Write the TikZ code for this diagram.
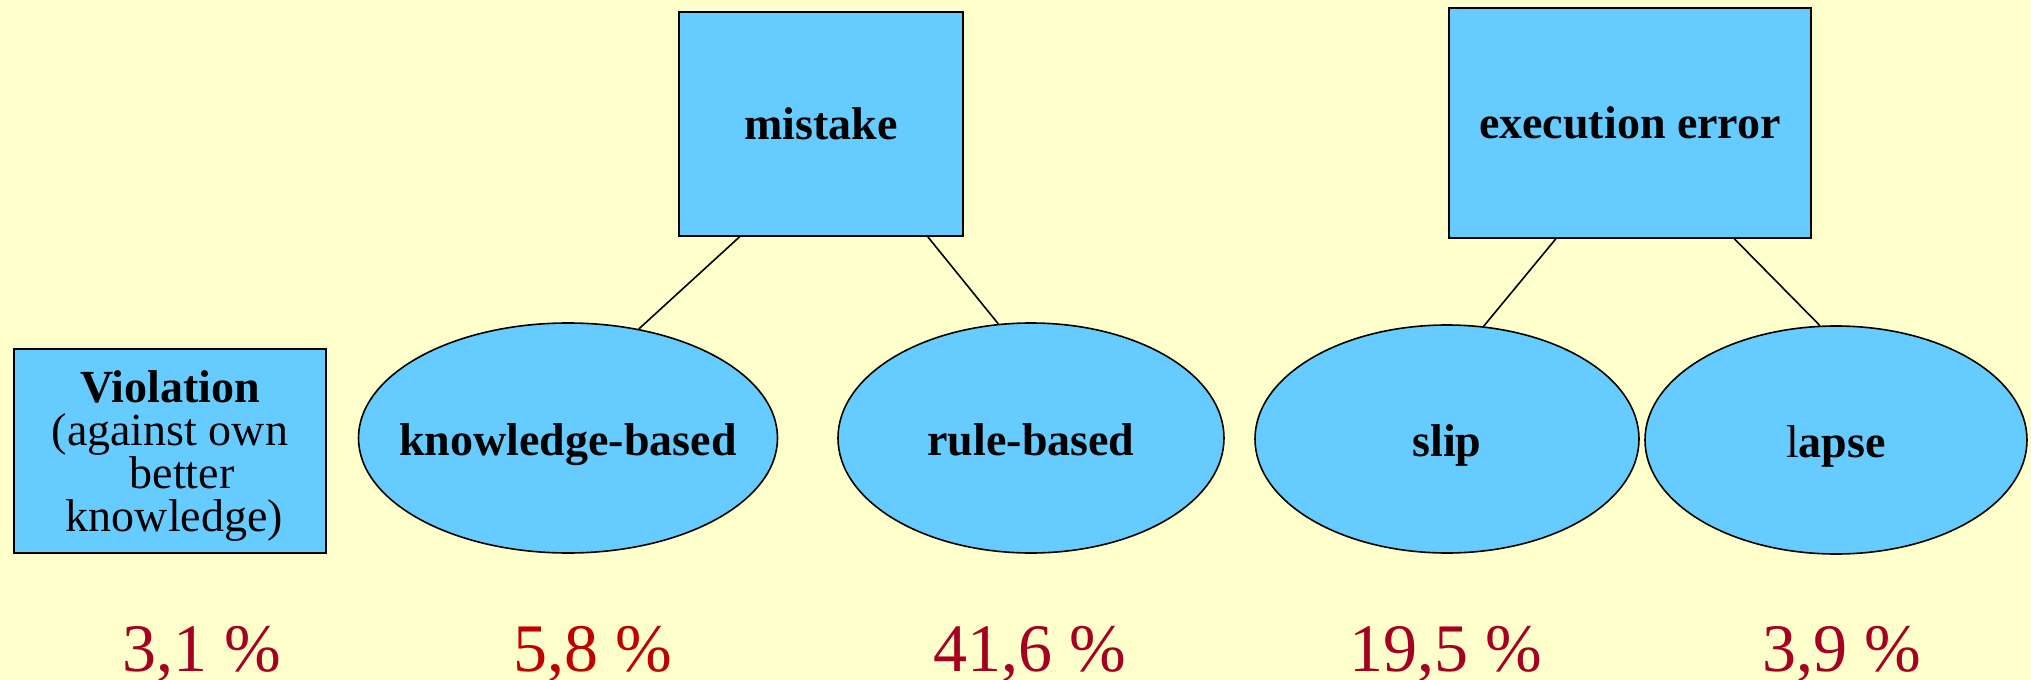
\documentclass[tikz,border=0pt]{standalone}
\usepackage{fontspec}
\setmainfont{Liberation Serif}
\usetikzlibrary{shapes.geometric,calc}
\definecolor{bgyellow}{HTML}{FFFFCC}
\definecolor{boxblue}{HTML}{66CCFF}
\definecolor{pctred}{HTML}{A50021}
\definecolor{pctred2}{HTML}{C00000}
\newcommand{\ovaltext}[1]{\raisebox{-8.5pt}[0pt][0pt]{\makebox[0pt]{#1}}}
\tikzset{
  nodefont/.style={font=\fontsize{23pt}{21.5pt}\selectfont},
  box/.style={draw=black, line width=0.8pt, fill=boxblue, rectangle, inner sep=0pt, nodefont, align=center},
  oval/.style={draw=black, line width=0.8pt, fill=boxblue, ellipse, inner sep=0pt, nodefont},
  link/.style={draw=black, line width=0.8pt},
  pct/.style={anchor=base, text=pctred, font=\fontsize{34pt}{36pt}\selectfont, inner sep=0pt}
}
\begin{document}
\begin{tikzpicture}[x=0.5pt, y=-0.5pt]
\fill[bgyellow] (0,0) rectangle (2031,680);
\useasboundingbox (0,0) rectangle (2031,680);

\node[box, minimum width=156pt, minimum height=102pt] (viol) at (170,451) {};
\node[nodefont, align=center, inner sep=0pt] (violtext) at ([yshift=-2.5pt]viol.center)
  {\textbf{Violation}\\(against own\\\hspace{12pt}better\\\hspace{4.5pt}knowledge)};
\node[box, minimum width=142pt, minimum height=112pt] (mistake) at (821,124) {\textbf{mistake}};
\node[box, minimum width=181pt, minimum height=115pt] (exec) at (1630,123) {\textbf{execution error}};

\node[oval, minimum width=209.5pt, minimum height=115pt] (kb) at (568,438) {\ovaltext{\textbf{knowledge-based}}};
\node[oval, minimum width=193pt, minimum height=115pt] (rb) at (1031,438) {\ovaltext{\textbf{rule-based}}};
\node[oval, minimum width=192pt, minimum height=114pt] (slip) at (1447,439) {\ovaltext{\textbf{slip}}};
\node[oval, minimum width=191pt, minimum height=114pt] (lapse) at (1836,440) {\ovaltext{l\textbf{apse}}};

\draw[link] ($(mistake.south west)!0.215!(mistake.south east)$) -- (kb.57);
\draw[link] ($(mistake.south west)!0.874!(mistake.south east)$) -- (rb.106.6);
\draw[link] ($(exec.south west)!0.296!(exec.south east)$) -- (slip.72.3);
\draw[link] ($(exec.south west)!0.787!(exec.south east)$) -- (lapse.98.5);

\node[pct] (p1) at (202,671) {3,1 \%};
\node[pct, text=pctred2] (p2) at (593,671) {5,8 \%};
\node[pct] (p3) at (1030,671) {41,6 \%};
\node[pct] (p4) at (1446,671) {19,5 \%};
\node[pct] (p5) at (1842,671) {3,9 \%};
\end{tikzpicture}
\end{document}
